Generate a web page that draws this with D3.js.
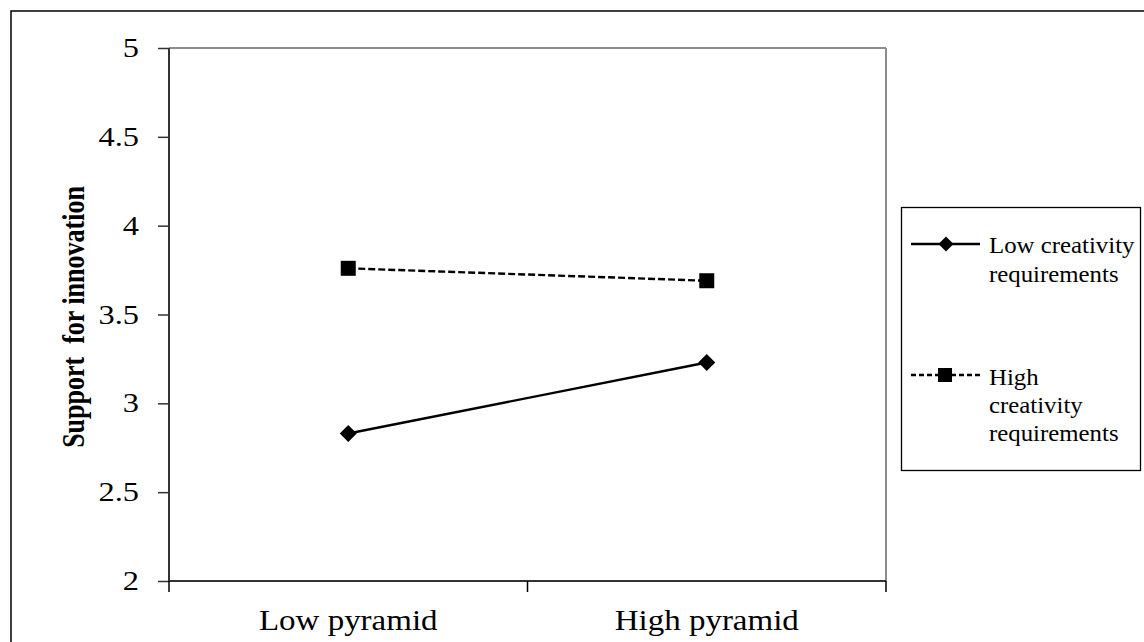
<!DOCTYPE html>
<html><head><meta charset="utf-8">
<script src="https://cdn.jsdelivr.net/npm/d3@7"></script>
<style>
html,body{margin:0;padding:0;background:#fff;}
svg{display:block;}
text{font-family:"Liberation Serif","Times New Roman",serif !important;fill:#000;}
</style></head>
<body><svg id="c" width="1144" height="642"></svg>
<script>
const categories = ["Low pyramid", "High pyramid"];
const seriesNames = ["Low creativity requirements", "High creativity requirements"];
const lowCreativity = [2.83, 3.23];
const highCreativity = [3.76, 3.69];
const yTicks = [2, 2.5, 3, 3.5, 4, 4.5, 5];
const yTickLabels = ["2", "2.5", "3", "3.5", "4", "4.5", "5"];
const yTitle = "Support  for innovation";

const svg = d3.select("#c");
const L = 169, R = 886, T = 48, B = 581;
const SERIF = '"Liberation Serif","Times New Roman",serif';

// outer frame
svg.append("rect").attr("x", 11).attr("y", 11).attr("width", 1145).attr("height", 645)
  .attr("fill", "none").attr("stroke", "#000").attr("stroke-width", 1.5);

const x = d3.scaleBand().domain(categories).range([L, R]).padding(0);
const y = d3.scaleLinear().domain([2, 5]).range([B, T]);

// plot border top & right (gray)
svg.append("line").attr("x1", L).attr("x2", R).attr("y1", T).attr("y2", T)
  .attr("stroke", "#8c8c8c").attr("stroke-width", 2);
svg.append("line").attr("x1", R).attr("x2", R).attr("y1", T).attr("y2", B)
  .attr("stroke", "#8c8c8c").attr("stroke-width", 2);

// y axis
const ySX = 1.2;
const yAxis = svg.append("g").attr("transform", `translate(${L},0)`)
  .call(d3.axisLeft(y).tickValues(yTicks).tickFormat((d, i) => yTickLabels[i]).tickSize(11).tickPadding(19));
yAxis.attr("font-family", SERIF);
yAxis.select(".domain").attr("stroke", "#333").attr("stroke-width", 2).attr("d", `M0,${T}V${B}`);
yAxis.selectAll(".tick line").attr("stroke", "#333").attr("stroke-width", 1.5);
yAxis.selectAll(".tick text").style("font-size", "27px").style("font-family", SERIF).attr("fill", "#000")
  .attr("x", -30 / ySX).attr("transform", `scale(${ySX},1)`);

// x axis
const xSX = 1.1;
const xAxis = svg.append("g").attr("transform", `translate(0,${B})`)
  .call(d3.axisBottom(x).tickSize(0).tickPadding(28));
xAxis.attr("font-family", SERIF);
xAxis.select(".domain").attr("stroke", "#333").attr("stroke-width", 2).attr("d", `M${L},0H${R}`);
xAxis.selectAll(".tick text").style("font-size", "30px").style("font-family", SERIF).attr("fill", "#000")
  .attr("transform", `scale(${xSX},1)`);
const bounds = [L, L + x.bandwidth(), R];
xAxis.selectAll("line.bt").data(bounds).enter().append("line").attr("class", "bt")
  .attr("x1", d => d).attr("x2", d => d).attr("y1", 0).attr("y2", 11)
  .attr("stroke", "#000").attr("stroke-width", 1.5);

// y title
svg.append("text").attr("transform", "translate(84,317) rotate(-90) scale(1,1.25)")
  .attr("text-anchor", "middle").style("font-size", "26px").style("font-weight", "bold")
  .style("font-family", SERIF).style("white-space", "pre").text(yTitle);

const cx = d => x(d) + x.bandwidth() / 2;
const line = d3.line().x(d => cx(d[0])).y(d => y(d[1]));

const lowData = categories.map((c, i) => [c, lowCreativity[i]]);
const highData = categories.map((c, i) => [c, highCreativity[i]]);

svg.append("path").attr("d", line(lowData)).attr("fill", "none").attr("stroke", "#000").attr("stroke-width", 2.4);
svg.append("path").attr("d", line(highData)).attr("fill", "none").attr("stroke", "#000").attr("stroke-width", 2.4)
  .attr("stroke-dasharray", "7,3");

const diamond = (g, px, py, s) => g.append("path")
  .attr("d", `M${px},${py - s}L${px + s},${py}L${px},${py + s}L${px - s},${py}Z`).attr("fill", "#000");
const square = (g, px, py, s) => g.append("rect")
  .attr("x", px - s).attr("y", py - s).attr("width", 2 * s).attr("height", 2 * s).attr("fill", "#000");

lowData.forEach(d => diamond(svg, cx(d[0]), y(d[1]), 8.5));
highData.forEach(d => square(svg, cx(d[0]), y(d[1]), 7.5));

// legend
const lg = svg.append("g");
lg.append("rect").attr("x", 901.5).attr("y", 207.5).attr("width", 239).attr("height", 263)
  .attr("fill", "#fff").attr("stroke", "#000").attr("stroke-width", 1.3);
lg.append("line").attr("x1", 911).attr("x2", 980).attr("y1", 244).attr("y2", 244).attr("stroke", "#000").attr("stroke-width", 2.4);
diamond(lg, 946, 244, 7.5);
lg.append("line").attr("x1", 911).attr("x2", 980).attr("y1", 375).attr("y2", 375).attr("stroke", "#000").attr("stroke-width", 2.4)
  .attr("stroke-dasharray", "5,3");
square(lg, 945, 375, 7);
const lSX = 1.08;
const leg1 = ["Low creativity", "requirements"];
const leg2 = ["High", "creativity", "requirements"];
const lt = lg.append("g").attr("transform", `translate(989,0) scale(${lSX},1)`);
lt.selectAll("text.l1").data(leg1).enter().append("text").attr("class", "l1")
  .attr("x", 0).attr("y", (d, i) => 253 + i * 29).style("font-size", "23px").style("font-family", SERIF).text(d => d);
lt.selectAll("text.l2").data(leg2).enter().append("text").attr("class", "l2")
  .attr("x", 0).attr("y", (d, i) => 385 + i * 28).style("font-size", "23px").style("font-family", SERIF).text(d => d);
</script></body></html>
